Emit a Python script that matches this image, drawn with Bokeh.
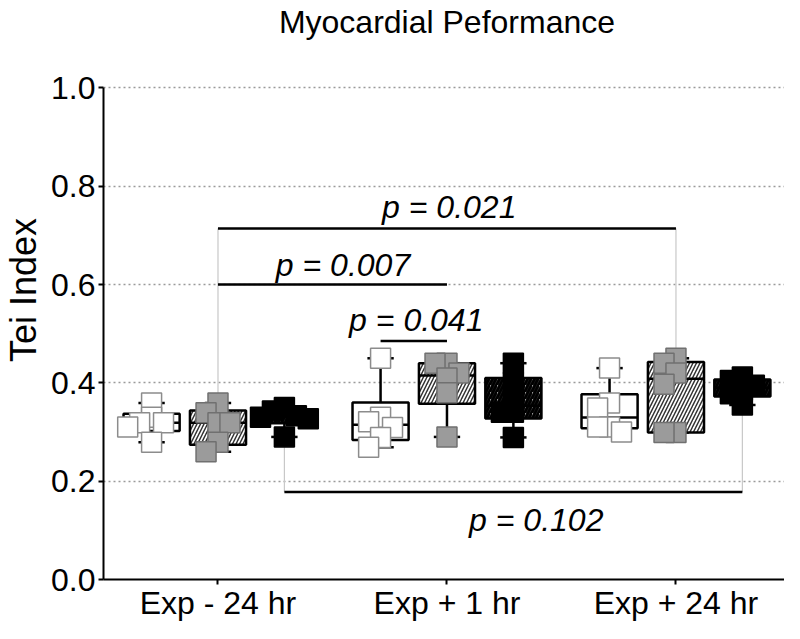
import numpy as np
from bokeh.plotting import figure
from bokeh.models import Range1d, FixedTicker, PrintfTickFormatter, Label
from bokeh.core.properties import value
from bokeh.embed import file_html
from bokeh.resources import INLINE

# ---------------- data ----------------
title_text = "Myocardial Peformance"
y_label = "Tei Index"
timepoints = ["Exp - 24 hr", "Exp + 1 hr", "Exp + 24 hr"]
y_ticks = [0.0, 0.2, 0.4, 0.6, 0.8, 1.0]

# three groups per timepoint: white (open), hatched (grey points), black
white_vals = [
    [0.359, 0.330, 0.319, 0.319, 0.310, 0.279],
    [0.450, 0.330, 0.321, 0.309, 0.289, 0.269],
    [0.430, 0.359, 0.349, 0.310, 0.310, 0.300],
]
hatched_vals = [
    [0.359, 0.339, 0.319, 0.319, 0.279, 0.260],
    [0.440, 0.440, 0.420, 0.410, 0.380, 0.290],
    [0.450, 0.440, 0.420, 0.397, 0.299, 0.299],
]
black_vals = [
    [0.350, 0.343, 0.333, 0.330, 0.327, 0.290],
    [0.440, 0.400, 0.367, 0.340, 0.340, 0.289],
    [0.412, 0.405, 0.395, 0.385, 0.378, 0.355],
]

# comparisons: label, (timepoint, group) from, (timepoint, group) to, bracket level
p_labels = ["p = 0.021", "p = 0.007", "p = 0.041", "p = 0.102"]
p_from = [(0, 1), (0, 1), (1, 0), (0, 2)]
p_to = [(2, 1), (1, 1), (1, 1), (2, 2)]
p_level = [0.714, 0.600, 0.485, 0.178]
p_text_y = [0.758, 0.640, 0.527, 0.122]
p_text_x = [2.01, 1.546, 1.866, 2.39]
p_drop = [True, False, False, True]

# ---------------- layout / style ----------------
W, H = 784, 623
BL, BR, BT, BB = 100, 0, 0, 40
X0, X1 = 0.5, 3.474
TOP_GAP = 88          # px between canvas top and the 1.0 gridline
FONT = "Liberation Sans"
group_offset = [-0.29, 0.0, 0.29]
box_w = 0.245
cap_w = 0.115
SQ = 20

frame_w = W - BL - BR
frame_h = H - BT - BB
sx = frame_w / (X1 - X0)
sy = frame_h - TOP_GAP          # px per data unit on y
Y1 = frame_h / sy               # extra headroom holds the title

p = figure(width=W, height=H, x_range=Range1d(X0, X1), y_range=Range1d(0, Y1),
           output_backend="svg", toolbar_location=None,
           min_border_left=BL, min_border_right=BR, min_border_top=BT, min_border_bottom=BB)
p.outline_line_color = None
p.background_fill_color = "white"
p.border_fill_color = "white"

# axes
p.yaxis.ticker = FixedTicker(ticks=y_ticks)
p.yaxis.formatter = PrintfTickFormatter(format="%.1f")
p.yaxis.bounds = (0, 1)
p.yaxis.major_label_text_font = FONT
p.yaxis.major_label_text_font_size = "32px"
p.yaxis.major_label_text_color = "black"
p.yaxis.axis_label = y_label
p.yaxis.axis_label_text_font = FONT
p.yaxis.axis_label_text_font_size = "36px"
p.yaxis.axis_label_text_font_style = "normal"
p.yaxis.axis_label_text_color = "black"
p.yaxis.axis_label_standoff = 4

p.xaxis.ticker = FixedTicker(ticks=[1, 2, 3])
p.xaxis.major_label_overrides = {i + 1: t for i, t in enumerate(timepoints)}
p.xaxis.major_label_text_font = FONT
p.xaxis.major_label_text_font_size = "32px"
p.xaxis.major_label_text_color = "black"

for ax in (p.xaxis[0], p.yaxis[0]):
    ax.axis_line_width = 2
    ax.axis_line_color = "black"
    ax.major_tick_line_width = 2
    ax.major_tick_line_color = "black"
    ax.major_tick_out = 5
    ax.major_tick_in = 0
    ax.minor_tick_line_color = None
p.xaxis.major_label_standoff = 0
p.yaxis.major_label_standoff = 3

p.xgrid.visible = False
p.ygrid.ticker = FixedTicker(ticks=[0.2, 0.4, 0.6, 0.8, 1.0])
p.ygrid.grid_line_color = "#9a9a9a"
p.ygrid.grid_line_dash = "2 3"
p.ygrid.grid_line_width = 1.5

# chart title, inside the headroom above 1.0
p.add_layout(Label(x=(X0 + X1) / 2 + 3 / sx, y=1 + (TOP_GAP - 22) / sy, text=title_text,
                   text_font=FONT, text_font_size="32px", text_align="center",
                   text_baseline="middle", text_color="black"))


def swarm(vals):
    order = sorted(range(len(vals)), key=lambda i: -vals[i])
    step = 4
    cands = [0]
    for k in range(1, 12):
        cands += [-k * step, k * step]
    thr = 0.6 * SQ
    placed = []
    offs = [0.0] * len(vals)
    for i in order:
        y = vals[i] * sy
        chosen = cands[-1]
        for c in cands:
            if all(abs(c - px) >= thr or abs(y - py) >= thr for px, py in placed):
                chosen = c
                break
        placed.append((chosen, y))
        offs[i] = chosen / sx
    return offs


groups = [white_vals, hatched_vals, black_vals]


def center(t, g):
    return t + 1 + group_offset[g]


def stats(v):
    q1, med, q3 = np.percentile(v, [25, 50, 75], method="weibull")
    return min(v), q1, med, q3, max(v)


# bracket drop lines (light grey), drawn first
for i in range(len(p_labels)):
    if not p_drop[i]:
        continue
    for (t, g) in (p_from[i], p_to[i]):
        v = groups[g][t]
        yend = max(v) if p_level[i] > max(v) else min(v)
        p.segment(x0=[center(t, g)], y0=[p_level[i]], x1=[center(t, g)], y1=[yend],
                  line_color="#c8c8c8", line_width=1.2)

box_styles = [
    dict(fill_color="white"),
    dict(fill_color="white", hatch_pattern="/", hatch_color="#333333", hatch_scale=7, hatch_weight=1.5),
    dict(fill_color="#9a9a9a", hatch_pattern="/", hatch_color="black", hatch_scale=7, hatch_weight=3),
]
pt_styles = [
    dict(fill_color="white", line_color="#8c8c8c"),
    dict(fill_color="#9b9b9b", line_color="#707070"),
    dict(fill_color="black", line_color="black"),
]

for g, gv in enumerate(groups):
    for t in range(3):
        v = gv[t]
        c = center(t, g)
        mn, q1, med, q3, mx = stats(v)
        p.segment(x0=[c, c], y0=[q3, q1], x1=[c, c], y1=[mx, mn], line_color="black", line_width=2.5)
        p.segment(x0=[c - cap_w / 2] * 2, y0=[mx, mn], x1=[c + cap_w / 2] * 2, y1=[mx, mn],
                  line_color="black", line_width=2.5)
        p.quad(left=[c - box_w / 2], right=[c + box_w / 2], bottom=[q1], top=[q3],
               line_color="black", line_width=2.5, **box_styles[g])
        p.segment(x0=[c - box_w / 2], y0=[med], x1=[c + box_w / 2], y1=[med],
                  line_color="black", line_width=2.5)

for g, gv in enumerate(groups):
    for t in range(3):
        v = gv[t]
        c = center(t, g)
        offs = swarm(v)
        p.scatter(x=[c + o for o in offs], y=v, marker="square", size=SQ,
                  line_width=1.5, **pt_styles[g])

# brackets and p-values
for i, lab in enumerate(p_labels):
    xa = center(*p_from[i])
    xb = center(*p_to[i])
    p.segment(x0=[xa], y0=[p_level[i]], x1=[xb], y1=[p_level[i]], line_color="black", line_width=2.5)
p.text(x=p_text_x, y=p_text_y, text=p_labels, text_font=value(FONT), text_font_style="italic",
       text_font_size="32px", text_align="center", text_baseline="middle", text_color="black")

open("out.html", "w").write(file_html(p, INLINE))
